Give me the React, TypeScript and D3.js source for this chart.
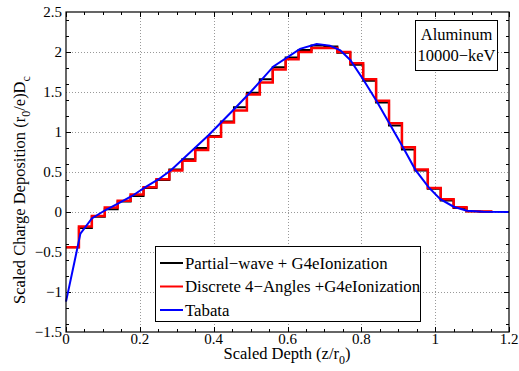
import React from "react";
import * as d3 from "d3";

const binEdges = [0, 0.035, 0.07, 0.105, 0.14, 0.175, 0.21, 0.245, 0.28, 0.315, 0.35, 0.385, 0.42, 0.455, 0.49, 0.525, 0.56, 0.595, 0.63, 0.665, 0.7, 0.735, 0.77, 0.805, 0.84, 0.875, 0.91, 0.945, 0.98, 1.015, 1.05, 1.085, 1.12, 1.155];
const partialWave = [-0.44, -0.2, -0.06, 0.035, 0.13, 0.2, 0.3, 0.4, 0.53, 0.66, 0.8, 0.95, 1.13, 1.31, 1.49, 1.66, 1.81, 1.93, 2.025, 2.08, 2.07, 1.99, 1.84, 1.64, 1.37, 1.08, 0.78, 0.52, 0.29, 0.145, 0.05, 0.01, 0.003];
const discrete4 = [-0.44, -0.18, -0.05, 0.055, 0.14, 0.22, 0.31, 0.41, 0.52, 0.64, 0.775, 0.94, 1.12, 1.27, 1.47, 1.62, 1.78, 1.91, 2.0, 2.05, 2.05, 2.0, 1.86, 1.66, 1.39, 1.11, 0.81, 0.53, 0.3, 0.16, 0.06, 0.01, 0.005];
const tabataZ = [0, 0.024, 0.039, 0.07, 0.107, 0.143, 0.179, 0.215, 0.251, 0.285, 0.386, 0.45, 0.5, 0.562, 0.634, 0.679, 0.715, 0.743, 0.77, 0.806, 0.842, 0.878, 0.914, 0.946, 0.982, 1.014, 1.05, 1.086, 1.13, 1.2];
const tabataD = [-1.12, -0.6, -0.27, -0.08, 0.025, 0.11, 0.2, 0.31, 0.41, 0.525, 0.96, 1.26, 1.5, 1.82, 2.04, 2.1, 2.08, 2.02, 1.9, 1.65, 1.38, 1.09, 0.8, 0.53, 0.31, 0.16, 0.066, 0.016, 0.004, 0];

const xTicks = [0, 0.2, 0.4, 0.6, 0.8, 1, 1.2];
const xTickLabels = ["0", "0.2", "0.4", "0.6", "0.8", "1", "1.2"];
const yTicks = [-1.5, -1, -0.5, 0, 0.5, 1, 1.5, 2, 2.5];
const yTickLabels = ["\u22121.5", "\u22121", "\u22120.5", "0", "0.5", "1", "1.5", "2", "2.5"];

const legendNames = ["Partial\u2212wave + G4eIonization", "Discrete 4\u2212Angles +G4eIonization", "Tabata"];
const legendColors = ["#000000", "#ff0000", "#0000ff"];

const W = 519, H = 371;
const L = 66, R = 509, T = 12, B = 332;
const FONT = "Liberation Serif, Times New Roman, DejaVu Serif, serif";

export default function App() {
  const x = d3.scaleLinear().domain([0, 1.2]).range([L, R]);
  const y = d3.scaleLinear().domain([-1.5, 2.5]).range([B, T]);

  const stairs = (vals: number[]) => {
    const pts: [number, number][] = vals.map((v, i) => [binEdges[i], v]);
    pts.push([binEdges[vals.length], vals[vals.length - 1]]);
    return d3.line<[number, number]>().x(d => x(d[0])).y(d => y(d[1])).curve(d3.curveStepAfter)(pts) || "";
  };
  const tabata = d3.line<number>().x(d => x(d)).y((d, i) => y(tabataD[i]))(tabataZ) || "";

  const xMinor = x.ticks(24);
  const yMinor = y.ticks(16);
  const ts = { fontFamily: FONT };

  return (
    <svg width={W} height={H} style={{ position: "absolute", left: 0, top: 0, background: "#fff", fontFamily: FONT }}>
      <rect x={0} y={0} width={W} height={H} fill="#fff" />
      {/* grid */}
      <g stroke="#999" strokeWidth={1} strokeDasharray="1,2">
        {xTicks.slice(1, -1).map(t => (
          <line key={"gx" + t} x1={Math.round(x(t)) + 0.5} x2={Math.round(x(t)) + 0.5} y1={T} y2={B} />
        ))}
        {yTicks.slice(1, -1).map(t => (
          <line key={"gy" + t} x1={L} x2={R} y1={Math.round(y(t)) + 0.5} y2={Math.round(y(t)) + 0.5} />
        ))}
      </g>
      {/* ticks */}
      <g stroke="#000" strokeWidth={1}>
        {xMinor.map(t => {
          const major = xTicks.some(m => Math.abs(m - t) < 1e-6);
          const len = major ? 5 : 3;
          const px = Math.round(x(t)) + 0.5;
          return (
            <g key={"tx" + t}>
              <line x1={px} x2={px} y1={B} y2={B - len} />
              <line x1={px} x2={px} y1={T} y2={T + len} />
            </g>
          );
        })}
        {yMinor.map(t => {
          const major = yTicks.some(m => Math.abs(m - t) < 1e-6);
          const len = major ? 5 : 3;
          const py = Math.round(y(t)) + 0.5;
          return (
            <g key={"ty" + t}>
              <line x1={L} x2={L + len} y1={py} y2={py} />
              <line x1={R} x2={R - len} y1={py} y2={py} />
            </g>
          );
        })}
      </g>
      {/* data */}
      <path d={stairs(partialWave)} fill="none" stroke="#000" strokeWidth={2} />
      <path d={stairs(discrete4)} fill="none" stroke="#ff0000" strokeWidth={2.5} />
      <path d={tabata} fill="none" stroke="#0000ff" strokeWidth={2} />
      {/* frame */}
      <rect x={L} y={T} width={R - L} height={B - T} fill="none" stroke="#000" strokeWidth={1.2} />
      {/* tick labels */}
      <g fontSize={15} fill="#000">
        {xTicks.map((t, i) => (
          <text key={"xl" + t} style={ts} x={x(t)} y={344} textAnchor="middle">{xTickLabels[i]}</text>
        ))}
        {yTicks.map((t, i) => (
          <text key={"yl" + t} style={ts} x={62} y={y(t) + 5} textAnchor="end">{yTickLabels[i]}</text>
        ))}
      </g>
      {/* axis labels */}
      <text style={ts} x={287} y={359} textAnchor="middle" fontSize={16.5}>
        Scaled Depth (z/r<tspan dy={5} fontSize={12}>0</tspan><tspan dy={-5}>)</tspan>
      </text>
      <text style={ts} transform="translate(25,190) rotate(-90)" textAnchor="middle" fontSize={16.5}>
        Scaled Charge Deposition (r<tspan dy={5} fontSize={12}>0</tspan><tspan dy={-5}>/e)D</tspan><tspan dy={5} fontSize={12}>c</tspan>
      </text>
      {/* annotation box */}
      <rect x={415.5} y={20.5} width={82} height={50} fill="#fff" stroke="#000" strokeWidth={1} />
      <text style={ts} x={456.5} y={40} textAnchor="middle" fontSize={16.5}>Aluminum</text>
      <text style={ts} x={456.5} y={61} textAnchor="middle" fontSize={16.5}>10000{"\u2212"}keV</text>
      {/* legend */}
      <rect x={155.5} y={246.5} width={265} height={75} fill="#fff" stroke="#000" strokeWidth={1} />
      {legendNames.map((n, i) => {
        const ry = 263 + i * 23.5;
        return (
          <g key={n}>
            <line x1={160} x2={183} y1={ry} y2={ry} stroke={legendColors[i]} strokeWidth={2} />
            <text style={ts} x={185} y={ry + 5.5} fontSize={16.8}>{n}</text>
          </g>
        );
      })}
    </svg>
  );
}
